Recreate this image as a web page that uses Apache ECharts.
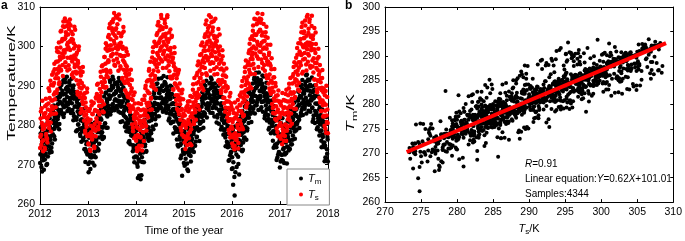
<!DOCTYPE html>
<html>
<head>
<meta charset="utf-8">
<script src="https://cdn.jsdelivr.net/npm/echarts@6/dist/echarts.min.js"></script>
<style>
  html, body { margin: 0; padding: 0; background: #fff; }
  #main { width: 685px; height: 241px; }
</style>
</head>
<body>
<div id="main"></div>
<script>
// two sample sets, 8 per month each (96 per year)
var years = [2012, 2013, 2014, 2015, 2016, 2017];

// set A: Ts (surface temperature)
var ts2012 = [274.2,281.7,277.6,284.3,275.9,279.8,273.4,282.1, 282.4,274.3,284.8,280.1,277.8,285.2,276.5,281.0,
  282.1,289.4,279.3,286.9,283.8,280.7,290.2,283.0, 292.8,286.3,290.1,282.9,290.7,294.2,288.4,284.6,
  296.1,288.2,298.7,294.3,291.9,298.5,290.4,294.9, 296.7,303.8,293.9,301.3,298.2,295.3,305.1,297.3,
  304.9,298.4,302.1,294.8,302.8,306.3,300.4,297.1, 303.0,295.2,305.9,301.2,299.1,305.3,297.4,301.9,
  296.2,303.1,293.4,300.8,297.7,294.8,304.2,296.8, 297.9,291.4,295.1,287.8,295.8,299.1,293.4,289.6,
  291.3,283.2,293.7,289.3,286.9,293.5,285.4,289.9, 281.2,288.1,278.6,285.8,282.7,279.6,289.3,281.8];
var ts2013 = [280.9,275.1,283.6,277.3,273.8,281.4,278.2,285.0, 276.4,282.8,279.1,285.7,274.6,280.3,283.9,277.2,
  286.8,281.1,290.3,283.4,279.6,287.2,284.9,280.5, 287.4,293.6,284.8,290.9,286.1,295.2,289.7,283.3,
  291.8,297.3,289.5,299.4,294.1,292.6,300.2,296.0, 302.4,296.1,304.7,299.3,293.8,301.8,297.5,306.2,
  299.2,306.1,303.3,296.4,308.5,300.7,295.1,304.2, 304.6,298.2,307.3,300.1,295.9,303.4,299.8,306.8,
  300.3,294.4,302.6,297.6,291.8,299.9,296.5,303.8, 291.1,297.6,288.9,295.3,292.4,298.7,294.0,287.3,
  290.7,285.2,293.1,288.0,283.4,291.6,286.7,289.4, 280.2,286.4,278.5,284.1,281.6,288.3,282.8,277.3];
var ts2014 = [276.1,281.8,273.4,279.3,284.2,277.0,274.8,280.5, 282.3,276.9,285.4,279.8,273.6,281.1,278.2,284.0,
  281.3,287.5,283.2,290.0,279.8,285.6,282.4,288.6, 291.4,285.7,294.3,288.1,283.9,292.6,287.0,290.8,
  297.2,291.3,299.8,293.9,289.4,296.7,292.5,300.6, 296.4,302.9,298.3,305.4,293.7,300.8,297.1,304.1,
  305.1,299.6,308.0,302.3,296.2,304.4,298.0,301.1, 298.9,306.7,302.5,296.8,304.9,300.2,307.4,297.7,
  301.1,295.2,303.5,297.4,292.3,299.6,296.1,302.4, 291.9,296.8,289.2,295.7,292.8,298.3,290.5,294.4,
  286.4,291.9,284.1,289.5,293.3,287.2,282.8,290.6, 285.3,279.4,283.9,288.1,277.6,282.2,286.6,280.8];
var ts2015 = [281.0,275.6,279.9,283.8,276.3,280.7,274.9,285.1, 277.8,283.4,280.6,286.1,275.3,282.2,279.0,284.7,
  287.2,282.0,290.4,284.9,280.3,288.1,283.3,286.0, 286.8,292.7,288.3,295.2,284.9,291.0,287.6,293.9,
  297.8,292.0,300.3,294.7,289.6,296.4,291.1,298.9, 295.9,302.4,298.9,305.6,293.2,300.6,297.0,303.7,
  304.7,299.0,307.9,301.5,295.6,303.2,298.1,306.1, 297.6,303.9,299.9,306.4,294.3,302.1,298.5,301.0,
  300.2,294.7,302.5,296.9,291.2,298.8,295.6,303.0, 290.4,296.1,288.2,294.4,291.5,297.5,289.6,293.8,
  285.6,291.0,283.4,288.6,292.3,286.1,282.0,289.7, 284.4,278.8,282.9,287.3,276.9,281.5,285.6,279.7];
var ts2016 = [275.4,280.8,274.6,283.1,277.7,274.8,281.9,276.3, 282.0,276.3,284.5,279.4,274.1,281.3,277.5,285.2,
  281.2,287.3,283.6,289.9,279.5,285.8,282.3,288.4, 292.1,286.4,294.7,288.9,284.5,291.6,287.3,295.3,
  292.4,298.3,294.1,300.7,289.8,296.8,293.0,299.5, 302.6,296.8,305.3,300.0,294.4,303.1,298.2,306.9,
  299.5,305.6,301.2,308.4,296.9,303.7,300.3,307.1, 304.2,298.6,306.9,300.9,295.8,303.5,299.4,305.7,
  295.3,301.4,297.1,303.6,292.7,299.4,296.2,302.2, 296.2,290.6,298.4,292.9,288.7,295.1,291.3,297.0,
  285.4,290.8,283.1,288.5,292.2,286.2,281.6,289.9, 284.8,279.2,283.4,287.6,277.2,281.9,286.1,280.0];
var ts2017 = [282.1,276.6,285.0,279.8,275.2,283.3,278.1,286.4, 278.4,284.6,280.2,287.9,276.0,283.1,279.5,286.0,
  287.6,282.3,290.5,284.8,279.9,288.4,283.0,286.7, 286.3,292.4,288.1,294.8,284.2,290.9,287.2,293.6,
  297.1,291.4,299.6,293.8,289.0,296.0,290.8,298.7, 296.0,301.9,297.8,304.9,293.1,300.3,296.7,303.4,
  303.8,298.3,306.6,300.6,295.4,302.7,299.3,308.0, 298.1,304.5,300.3,306.9,295.1,302.8,299.0,305.2,
  300.6,294.9,302.8,297.0,291.6,299.2,295.8,303.5, 290.2,295.8,288.4,294.1,291.2,297.3,289.4,293.6,
  285.8,290.9,283.6,288.9,292.0,286.3,282.2,289.3, 285.6,279.9,283.7,288.7,278.1,282.5,287.2,280.6];

// set A: Tm (weighted mean temperature)
var tm2012 = [270.4,277.9,272.7,276.8,268.3,275.6,271.1,274.6, 272.4,275.9,278.1,272.8,273.9,275.4,270.2,278.6,
  280.5,279.0,274.6,281.8,273.7,276.3,278.9,273.2, 275.4,278.9,283.4,280.5,277.2,282.1,279.6,282.3,
  280.7,284.3,286.9,281.5,282.2,283.9,279.0,287.2, 289.4,287.9,283.5,290.6,282.8,285.2,287.8,282.1,
  283.0,286.5,290.9,288.0,284.8,289.5,287.2,289.8, 285.3,288.8,290.8,286.0,286.9,288.3,283.4,291.8,
  288.9,287.4,283.0,290.1,282.3,284.7,287.3,281.6, 278.5,282.0,286.4,283.5,280.2,285.0,282.7,285.3,
  277.8,281.3,283.9,278.6,279.3,281.0,276.2,284.1, 280.1,278.5,274.0,281.2,273.3,275.8,278.3,272.7];
var tm2013 = [279.3,268.1,276.9,270.6,272.0,275.2,271.8,277.4, 276.0,270.5,274.8,277.1,272.3,273.4,279.8,271.9,
  276.0,274.4,281.2,280.0,273.9,279.1,275.3,278.2, 281.6,281.8,284.1,277.3,278.2,279.4,283.0,276.8,
  287.3,284.6,280.5,288.1,283.7,282.6,285.9,279.4, 285.0,283.2,287.6,286.7,291.0,288.9,284.1,289.3,
  285.1,292.3,289.6,284.5,287.9,286.3,290.4,288.2, 288.4,284.9,286.2,290.2,289.5,289.1,285.8,291.2,
  286.1,280.8,284.7,285.5,289.2,287.8,282.9,287.3, 283.7,283.9,286.8,280.4,279.7,281.8,284.4,279.5,
  280.5,275.6,279.1,278.3,282.6,281.7,277.4,282.2, 277.6,277.3,274.9,274.2,271.8,280.4,279.2,272.1];
var tm2014 = [274.8,278.7,270.2,269.5,275.3,271.3,267.2,276.4, 272.8,266.3,275.9,277.5,270.7,276.9,273.1,278.2,
  276.2,281.4,275.1,280.3,273.3,279.7,277.6,278.8, 279.3,276.1,281.0,277.7,284.0,282.5,278.0,283.1,
  282.4,279.7,284.9,284.2,288.0,285.7,281.5,286.9, 290.4,282.2,285.4,283.9,289.3,284.6,288.2,286.9,
  288.9,284.3,287.1,285.6,289.9,290.0,286.2,292.5, 283.8,291.0,285.4,290.5,286.9,286.0,289.8,288.6,
  284.0,281.2,287.3,282.9,288.0,286.9,283.4,289.7, 282.7,284.0,285.6,280.9,283.8,282.2,285.3,279.0,
  279.2,283.1,281.4,275.0,280.8,278.3,282.6,276.4, 280.7,271.6,275.4,278.6,267.2,277.9,273.2,276.2];
var tm2015 = [278.5,269.7,276.0,271.5,273.6,275.8,270.3,279.2, 268.4,279.1,276.7,273.1,276.0,272.2,277.3,275.4,
  276.5,274.1,280.6,277.8,278.6,279.4,274.8,282.3, 284.4,277.0,279.5,281.6,283.2,278.6,282.3,280.9,
  283.7,279.0,282.6,284.7,286.3,285.5,281.1,287.4, 290.3,282.5,287.6,286.9,289.0,284.3,288.8,285.6,
  288.3,283.9,287.0,285.3,290.7,289.4,286.7,291.6, 290.5,283.1,286.6,287.7,284.9,285.4,289.5,288.0,
  284.3,280.7,286.9,282.6,288.2,287.2,283.8,288.6, 283.5,282.9,285.0,279.6,282.0,281.3,284.1,278.9,
  280.6,282.3,279.0,274.7,280.8,277.8,281.9,275.4, 279.6,271.0,275.2,277.9,272.4,277.7,273.3,276.8];
var tm2016 = [271.9,269.1,264.9,277.9,276.6,262.2,273.6,275.2, 274.8,269.4,279.5,276.1,272.0,276.3,267.5,278.7,
  276.0,281.6,277.5,280.4,273.4,279.8,275.6,278.2, 281.1,276.9,282.7,279.6,285.1,283.2,278.7,284.6,
  288.5,280.6,285.3,283.1,287.9,282.9,286.2,284.6, 287.6,283.3,288.0,286.1,291.6,289.2,285.0,290.8,
  293.3,285.1,289.9,286.5,291.2,287.0,290.4,288.7, 287.5,284.0,288.7,285.9,290.6,289.9,286.0,292.4,
  289.1,281.8,286.4,283.2,288.1,284.0,287.9,285.8, 282.6,278.9,284.2,280.7,285.9,284.8,281.4,286.3,
  279.8,282.6,278.5,274.3,281.0,277.9,281.7,275.1, 279.8,271.2,275.4,278.3,272.6,277.6,273.1,276.9];
var tm2017 = [277.2,270.8,280.1,271.2,272.5,276.6,273.9,279.3, 270.4,276.5,273.0,279.4,272.9,277.9,274.6,281.1,
  277.0,273.6,280.9,276.2,278.3,279.6,275.1,282.4, 284.1,276.3,281.6,279.2,283.5,278.4,282.7,280.5,
  282.6,278.9,284.6,280.8,286.2,285.1,281.4,287.0, 290.1,282.4,287.3,283.9,289.4,284.6,288.2,285.7,
  288.0,284.2,290.2,285.6,292.7,289.6,286.1,291.3, 291.6,283.7,288.8,285.3,290.3,286.4,289.9,287.2,
  284.4,280.9,286.8,282.5,289.0,287.4,283.6,288.9, 283.2,282.6,285.4,279.5,281.8,281.1,284.0,278.6,
  280.2,281.9,278.7,274.4,281.5,277.6,282.1,275.3, 280.5,270.9,274.8,278.6,271.7,277.9,272.8,276.4];

// set B: Ts
var ts2012b = [277.1,283.5,275.0,280.6,286.2,278.9,276.2,282.8, 279.3,273.9,283.1,286.7,277.0,281.8,275.6,284.0,
  285.5,280.2,288.7,282.6,291.3,278.4,286.3,284.8, 290.2,284.1,293.5,287.8,295.6,286.6,291.9,283.0,
  292.9,299.6,289.1,296.2,293.4,301.0,290.9,297.4, 299.7,294.1,304.0,297.1,301.9,292.5,306.3,299.0,
  301.8,307.1,296.0,303.6,299.2,305.2,293.9,300.9, 299.8,304.4,294.2,306.8,301.4,297.0,303.7,292.8,
  297.0,301.7,292.1,299.5,305.0,295.4,300.1,293.6, 293.1,298.4,288.5,296.3,290.4,300.0,294.6,287.2,
  288.2,292.6,284.1,290.7,286.0,294.8,287.7,283.4, 282.4,286.9,278.0,284.6,280.3,288.4,277.2,283.7];
var ts2013b = [275.4,281.0,277.8,284.2,273.5,279.9,286.0,276.6, 282.9,277.4,285.6,279.3,274.2,283.7,278.6,287.1,
  281.8,287.9,283.6,290.5,279.0,286.1,282.7,289.2, 286.6,292.3,288.4,295.0,283.5,290.1,293.8,285.3,
  297.3,291.0,295.6,300.8,289.7,293.5,298.9,292.2, 296.5,302.9,299.1,305.7,293.4,300.3,297.8,304.6,
  304.0,298.1,306.9,301.4,295.3,302.8,299.6,307.7, 302.2,296.9,305.6,299.3,293.8,308.1,300.7,297.8,
  295.0,300.9,297.6,303.3,292.0,299.4,304.9,294.1, 296.0,290.7,293.2,299.5,288.2,294.9,291.6,297.9,
  287.1,292.9,285.0,290.2,284.3,294.1,288.6,291.5, 284.8,279.3,287.6,282.2,276.7,285.5,280.6,283.4];
var ts2014b = [279.7,274.2,283.0,277.5,285.6,273.9,281.2,278.8, 277.1,283.8,280.9,274.8,286.5,279.6,282.5,276.0,
  286.4,280.6,289.4,283.8,278.7,291.1,284.9,282.0, 288.2,293.8,285.1,291.5,296.1,286.7,289.9,284.0,
  293.0,298.6,290.2,296.0,301.2,291.7,295.4,289.0, 300.1,294.7,303.4,297.8,306.2,295.6,301.3,298.9,
  302.0,296.7,307.2,300.0,304.8,294.5,303.0,298.6, 300.5,305.9,297.1,303.2,294.6,301.8,307.9,299.3,
  296.3,301.8,293.7,299.0,304.3,291.9,298.2,302.7, 292.4,297.2,289.0,295.0,299.8,290.6,293.9,287.6,
  290.0,285.3,292.8,287.6,283.5,294.0,288.9,286.3, 281.4,286.8,278.6,284.1,289.0,280.1,283.0,277.0];
var ts2015b = [277.2,282.5,274.0,279.4,284.6,276.8,280.3,286.0, 281.4,276.7,284.1,278.3,287.4,280.0,274.9,283.0,
  283.0,289.0,285.8,280.9,292.0,284.0,287.7,281.4, 290.6,285.1,293.3,287.0,296.2,289.2,284.0,292.0,
  295.6,290.3,298.1,293.0,301.0,294.8,288.9,297.1, 299.9,294.5,303.1,297.6,306.6,292.7,301.2,296.4,
  302.5,297.2,305.2,299.9,293.8,307.4,300.8,296.0, 299.0,304.8,295.8,302.7,292.9,300.5,307.0,297.2,
  296.6,301.4,293.0,299.6,304.4,291.5,297.9,300.0, 294.2,288.9,296.7,291.0,299.0,292.7,287.0,295.6,
  287.0,292.6,284.5,290.1,294.4,286.0,289.4,283.0, 281.0,286.0,278.0,283.8,288.2,279.4,284.7,277.4];
var ts2016b = [279.1,284.0,276.9,281.6,273.9,285.8,278.0,282.9, 277.0,282.7,280.1,286.4,275.5,283.6,278.9,287.6,
  285.0,280.3,288.3,283.1,291.2,279.0,286.9,282.6, 287.9,293.5,290.2,296.4,284.9,291.0,285.6,289.2,
  296.0,290.6,299.0,293.3,301.9,295.2,289.4,297.7, 298.4,304.0,295.6,301.7,307.0,293.0,299.5,302.9,
  303.0,297.5,305.9,300.5,294.8,306.6,298.7,304.1, 300.2,306.0,296.7,302.8,308.2,294.4,301.3,297.9,
  299.7,293.8,302.5,297.0,305.0,291.9,300.4,295.4, 292.0,297.8,289.3,295.6,300.4,288.0,294.2,290.9,
  289.5,284.4,292.1,286.8,294.3,283.0,290.7,287.4, 281.2,286.3,278.3,284.0,288.8,279.9,283.2,285.7];
var ts2017b = [280.6,285.9,277.4,283.0,288.2,279.0,284.4,276.1, 282.8,277.3,286.2,280.0,289.0,278.6,284.3,281.5,
  283.3,289.4,286.0,281.2,292.0,284.6,288.0,280.4, 290.6,285.4,293.0,288.4,296.0,286.9,291.7,284.2,
  295.3,290.1,297.9,292.8,300.8,294.6,288.7,298.4, 300.8,295.2,303.6,298.0,306.0,293.6,299.8,302.1,
  302.2,296.9,305.3,299.8,293.9,307.5,301.0,296.1, 303.4,297.7,306.2,300.9,294.6,302.4,299.6,307.8,
  296.4,301.9,293.4,299.2,304.7,291.6,298.3,300.6, 294.5,289.1,296.9,291.4,299.4,292.8,287.0,295.3,
  286.4,291.9,283.6,289.5,294.0,285.1,288.3,282.4, 282.2,287.6,279.1,285.2,290.0,280.8,284.0,278.0];

// set B: Tm
var tm2012b = [272.6,279.5,269.4,275.3,277.8,271.9,274.0,268.7, 276.8,271.3,273.9,280.2,269.9,277.4,275.0,272.1,
  275.8,281.9,273.0,279.6,277.2,282.8,274.3,279.0, 283.8,277.7,281.2,285.0,279.1,276.4,282.9,280.6,
  281.8,286.6,279.8,285.3,288.0,283.1,280.3,286.0, 287.4,283.9,290.2,285.6,288.7,282.8,291.4,284.6,
  286.3,291.7,284.9,289.2,285.7,292.3,283.6,288.6, 289.0,284.2,291.2,286.4,290.1,283.1,288.1,285.6,
  283.9,289.4,281.3,286.7,288.5,282.0,287.6,284.8, 281.4,285.9,278.8,284.5,280.2,286.8,283.0,279.1,
  277.3,283.0,275.8,281.5,278.4,284.1,276.7,281.0, 273.9,279.5,270.7,277.4,275.2,280.6,272.6,278.1];
var tm2013b = [270.2,276.9,273.8,279.0,268.9,272.6,280.4,275.1, 277.6,272.0,278.9,275.5,269.8,280.7,273.4,276.2,
  274.1,280.6,278.3,282.5,273.6,276.9,279.7,283.1, 278.3,284.8,281.4,286.0,276.5,279.6,283.3,277.0,
  285.0,280.4,283.6,288.3,279.4,286.6,282.2,284.8, 284.2,288.9,286.7,291.5,282.7,287.4,283.6,290.0,
  289.8,285.4,291.6,287.8,283.8,290.7,286.6,288.5, 288.6,284.3,290.9,286.3,283.5,292.0,287.4,285.1,
  283.2,288.5,285.9,290.4,281.0,286.1,289.6,282.5, 284.7,279.6,282.1,287.0,278.5,285.6,280.9,286.2,
  278.4,283.6,276.0,281.2,275.2,284.5,279.7,282.4, 279.3,273.4,281.0,276.8,270.6,278.4,274.0,277.5];
var tm2014b = [276.9,272.0,279.6,266.6,277.3,270.9,275.7,273.3, 273.5,278.4,267.3,271.9,279.7,275.5,277.0,270.6,
  280.5,274.7,282.6,278.1,273.5,283.4,276.8,279.0, 279.5,284.2,277.0,282.8,285.6,278.6,281.3,276.3,
  281.9,287.1,279.0,285.2,288.6,282.9,284.1,280.1, 287.0,283.7,290.6,285.3,291.8,282.3,288.1,284.9,
  289.3,284.6,291.9,286.8,290.1,283.4,288.7,285.8, 286.5,290.8,284.4,289.1,283.2,287.8,292.2,285.0,
  284.6,288.9,281.8,286.6,290.0,280.5,285.3,287.9, 280.9,285.5,277.9,284.1,287.2,279.5,282.6,278.3,
  281.6,276.4,283.7,279.0,274.6,284.8,280.2,277.2, 275.0,279.8,272.3,277.5,281.2,273.8,276.6,270.4];
var tm2015b = [272.8,277.8,270.1,275.0,279.9,273.2,268.8,276.4, 277.9,272.5,279.5,274.0,281.1,270.8,276.1,273.6,
  278.0,282.3,275.1,273.2,281.0,279.5,283.3,275.9, 281.2,277.1,284.3,279.0,285.1,282.6,276.0,280.4,
  284.5,280.7,287.1,282.1,288.4,285.8,279.4,283.3, 286.8,283.0,290.0,285.2,291.3,282.0,288.2,284.5,
  288.9,285.0,290.6,287.6,283.2,292.1,286.0,289.7, 284.4,289.8,286.2,288.6,282.2,290.6,287.1,285.5,
  286.0,288.8,282.0,285.5,290.0,280.4,283.7,287.3, 284.0,278.9,285.6,281.4,287.1,282.5,277.6,280.8,
  278.6,283.2,276.9,281.0,284.1,275.8,279.9,274.4, 274.6,279.7,271.2,277.9,281.4,273.0,276.0,268.9];
var tm2016b = [274.4,278.8,270.6,276.9,266.9,279.7,268.1,275.6, 272.6,277.6,275.3,280.4,270.2,278.2,273.9,281.6,
  279.7,275.0,282.4,277.9,283.6,273.8,280.9,276.6, 278.8,284.7,281.5,286.1,276.3,283.0,279.2,282.2,
  285.5,281.9,288.4,284.1,289.3,286.5,280.8,287.0, 285.9,290.6,284.2,288.7,292.1,283.0,287.4,289.5,
  289.5,285.8,291.9,287.2,283.9,293.4,286.6,290.7, 287.1,291.5,284.6,289.3,292.6,283.4,288.4,286.1,
  287.4,282.4,289.6,285.0,290.8,281.2,286.9,284.1, 281.6,286.2,279.4,284.4,287.7,278.0,283.5,280.5,
  280.6,276.1,283.4,278.4,284.8,274.9,281.9,279.1, 274.4,279.6,271.8,277.8,281.3,273.2,276.0,269.3];
var tm2017b = [275.9,280.6,272.5,277.8,281.8,271.0,278.9,274.2, 277.3,272.6,280.2,275.6,282.7,270.3,278.4,274.5,
  278.1,282.9,276.1,274.0,284.1,279.4,281.2,275.2, 281.3,277.4,283.6,279.8,285.8,276.6,282.4,278.7,
  284.0,280.2,286.6,282.1,288.5,285.1,279.3,287.4, 287.2,283.1,290.3,285.6,291.5,282.6,286.5,289.0,
  288.6,284.9,291.0,287.0,283.0,292.9,288.9,285.9, 289.9,285.2,291.5,287.6,283.4,288.6,286.3,292.1,
  284.5,288.4,281.6,286.9,290.1,280.6,285.5,287.4, 283.1,279.0,285.5,280.8,287.3,282.3,277.4,284.6,
  278.4,282.6,276.1,280.9,284.0,277.0,279.7,274.5, 275.6,280.8,271.8,278.2,282.1,273.9,277.0,270.8];

// fit shown in panel b
var fitSlope = 0.62;
var fitIntercept = 101.01;
var fitRange = [273, 309];

var sets = [
  { ts: [ts2012, ts2013, ts2014, ts2015, ts2016, ts2017], tm: [tm2012, tm2013, tm2014, tm2015, tm2016, tm2017], off: 0.25 },
  { ts: [ts2012b, ts2013b, ts2014b, ts2015b, ts2016b, ts2017b], tm: [tm2012b, tm2013b, tm2014b, tm2015b, tm2016b, tm2017b], off: 0.75 }
];

var tmTime = [], tsTime = [], pairs = [];
sets.forEach(function (s) {
  for (var y = 0; y < years.length; y++) {
    var n = s.ts[y].length;
    for (var i = 0; i < n; i++) {
      var t = years[y] + (i + s.off) / n;
      tmTime.push([t, s.tm[y][i]]);
      tsTime.push([t, s.ts[y][i]]);
      pairs.push([s.ts[y][i], s.tm[y][i]]);
    }
  }
});
var fitLine = fitRange.map(function (x) { return [x, fitSlope * x + fitIntercept]; });

var FONT = 'Liberation Sans';
var lineStyle = { color: '#000', width: 1 };
var tickLabel = { color: '#000', fontFamily: FONT, fontSize: 10.5, margin: 5 };

function mainAxis(idx, min, max, interval, extra) {
  var a = {
    type: 'value', gridIndex: idx, min: min, max: max, interval: interval,
    axisLine: { onZero: false, lineStyle: lineStyle },
    axisTick: { inside: true, length: 3, lineStyle: lineStyle },
    axisLabel: tickLabel,
    splitLine: { show: false }
  };
  for (var k in extra) a[k] = extra[k];
  return a;
}
function boxAxis(idx, pos, min, max, interval) {
  return {
    type: 'value', gridIndex: idx, position: pos, min: min, max: max, interval: interval,
    axisLine: { show: true, onZero: false, lineStyle: lineStyle },
    axisTick: { show: true, inside: true, length: 3, lineStyle: lineStyle },
    axisLabel: { show: false }, splitLine: { show: false }
  };
}
var subRich = {
  i: { fontStyle: 'italic', fontFamily: FONT, fontSize: 11, color: '#000' },
  s: { fontFamily: FONT, fontSize: 8, color: '#000', padding: [7, 0, 0, 0] }
};

var chart = echarts.init(document.getElementById('main'));
chart.setOption({
  animation: false,
  backgroundColor: '#fff',
  grid: [
    { left: 40, top: 7, width: 288, height: 200 },
    { left: 385, top: 7, width: 290, height: 200 }
  ],
  xAxis: [
    mainAxis(0, 2012, 2018, 1, {
      name: 'Time of the year', nameLocation: 'middle', nameGap: 16,
      nameTextStyle: { color: '#000', fontFamily: FONT, fontSize: 11 },
      axisLabel: { color: '#000', fontFamily: FONT, fontSize: 10.5, margin: 5,
        formatter: function (v) { return String(v); } }
    }),
    boxAxis(0, 'top', 2012, 2018, 1),
    mainAxis(1, 270, 310, 5, {
      name: '{i|T}{s|s}/K', nameLocation: 'middle', nameGap: 16,
      nameTextStyle: { color: '#000', fontFamily: FONT, fontSize: 11, rich: subRich }
    }),
    boxAxis(1, 'top', 270, 310, 5)
  ],
  yAxis: [
    mainAxis(0, 260, 310, 10, {}),
    boxAxis(0, 'right', 260, 310, 10),
    mainAxis(1, 260, 300, 5, {}),
    boxAxis(1, 'right', 260, 300, 5)
  ],
  legend: {
    left: 287, top: 169, orient: 'vertical',
    padding: [4, 8, 3, 12], itemGap: 3,
    itemWidth: 4, itemHeight: 4,
    borderColor: '#888', borderWidth: 1, backgroundColor: '#fff',
    data: [
      { name: 'Tm', icon: 'circle' },
      { name: 'Ts', icon: 'circle' }
    ],
    formatter: function (name) { return '{i|T}{s|' + name.charAt(1) + '}'; },
    textStyle: { color: '#000', fontFamily: FONT, fontSize: 11, rich: subRich }
  },
  graphic: [
    { type: 'text', left: 1, top: 0, style: { text: 'a', font: 'bold 12px ' + FONT, fill: '#000' } },
    { type: 'text', left: 345, top: 0, style: { text: 'b', font: 'bold 12px ' + FONT, fill: '#000' } },
    {
      type: 'text', x: 12, y: 83, rotation: Math.PI / 2, scaleX: 1.6,
      style: { text: 'Temperature/K', font: '11px ' + FONT, fill: '#000',
        align: 'center', verticalAlign: 'middle', textAlign: 'center', textVerticalAlign: 'middle' }
    },
    {
      type: 'text', x: 351, y: 113, rotation: Math.PI / 2, scaleX: 1.6,
      style: { text: '{i|T}{s|m}/K', font: '11px ' + FONT, fill: '#000',
        align: 'center', verticalAlign: 'middle', textAlign: 'center', textVerticalAlign: 'middle',
        rich: {
          i: { fontStyle: 'italic', fontFamily: FONT, fontSize: 11, fill: '#000' },
          s: { fontFamily: FONT, fontSize: 8, fill: '#000', padding: [7, 0, 0, 0] }
        } }
    },
    {
      type: 'text', left: 525, top: 157,
      style: {
        text: '{i|R}=0.91\nLinear equation:{i|Y}=0.62{i|X}+101.01\nSamples:4344',
        font: '10px ' + FONT, fill: '#000', lineHeight: 15,
        rich: { i: { fontStyle: 'italic', fontFamily: FONT, fontSize: 10, fill: '#000', lineHeight: 15 } }
      }
    }
  ],
  series: [
    {
      name: 'Tm', type: 'scatter', xAxisIndex: 0, yAxisIndex: 0,
      symbolSize: 4.5, itemStyle: { color: '#000', opacity: 1 }, data: tmTime
    },
    {
      name: 'Ts', type: 'scatter', xAxisIndex: 0, yAxisIndex: 0,
      symbolSize: 4.5, itemStyle: { color: '#ff0000', opacity: 1 }, data: tsTime
    },
    {
      name: 'pairs', type: 'scatter', xAxisIndex: 2, yAxisIndex: 2,
      symbolSize: 4, itemStyle: { color: '#000', opacity: 1 }, data: pairs
    },
    {
      name: 'fit', type: 'line', xAxisIndex: 2, yAxisIndex: 2,
      showSymbol: false, symbol: 'none',
      lineStyle: { color: '#ff0000', width: 4 }, data: fitLine
    }
  ]
});
</script>
</body>
</html>
